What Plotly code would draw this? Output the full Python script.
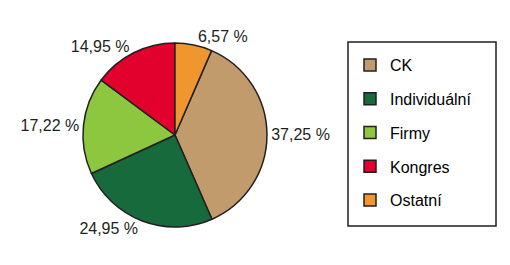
import plotly.graph_objects as go

categories = ["CK", "Individuální", "Firmy", "Kongres", "Ostatní"]
values = [37.25, 24.95, 17.22, 14.95, 6.57]
colors = ["#C29B6C", "#176A3B", "#8DC63F", "#E2012D", "#F0962E"]

FONT = "Liberation Sans, Arial, sans-serif"
DARK = "#231F20"
W, H = 510, 265

start_angle = values[-1] / sum(values) * 360

fig = go.Figure()
fig.add_trace(go.Pie(
    labels=categories,
    values=values,
    sort=False,
    direction="clockwise",
    rotation=start_angle,
    marker=dict(colors=colors, line=dict(color=DARK, width=1.5)),
    textposition="outside",
    texttemplate="%{value:.2f} %",
    textfont=dict(family=FONT, size=16, color=DARK),
    showlegend=False,
    hoverinfo="label+value",
    domain=dict(x=[0.1627, 0.5235], y=[0.1434, 0.8377]),
))

for i, (c, col) in enumerate(zip(categories, colors)):
    fig.add_trace(go.Scatter(
        x=[None], y=[None], mode="markers", name=c,
        legendgroup=f"g{i}",
        marker=dict(symbol="square", size=12, color=col, line=dict(color=DARK, width=1.5)),
    ))

# legend frame
fig.add_shape(type="rect", xref="paper", yref="paper",
              x0=348 / W, x1=496 / W, y0=1 - 226 / H, y1=1 - 42 / H,
              line=dict(color=DARK, width=1.5), fillcolor="rgba(0,0,0,0)")

fig.update_layout(
    width=W, height=H,
    margin=dict(l=0, r=0, t=0, b=0, autoexpand=False),
    paper_bgcolor="white", plot_bgcolor="white",
    xaxis=dict(visible=False), yaxis=dict(visible=False),
    separators=", ",
    legend=dict(
        x=350 / W, y=1 - 48 / H, xanchor="left", yanchor="top",
        borderwidth=0, bgcolor="rgba(0,0,0,0)",
        font=dict(family=FONT, size=16, color="#000000"),
        tracegroupgap=10,
        itemwidth=30,
    ),
)

fig.write_html("out.html")
